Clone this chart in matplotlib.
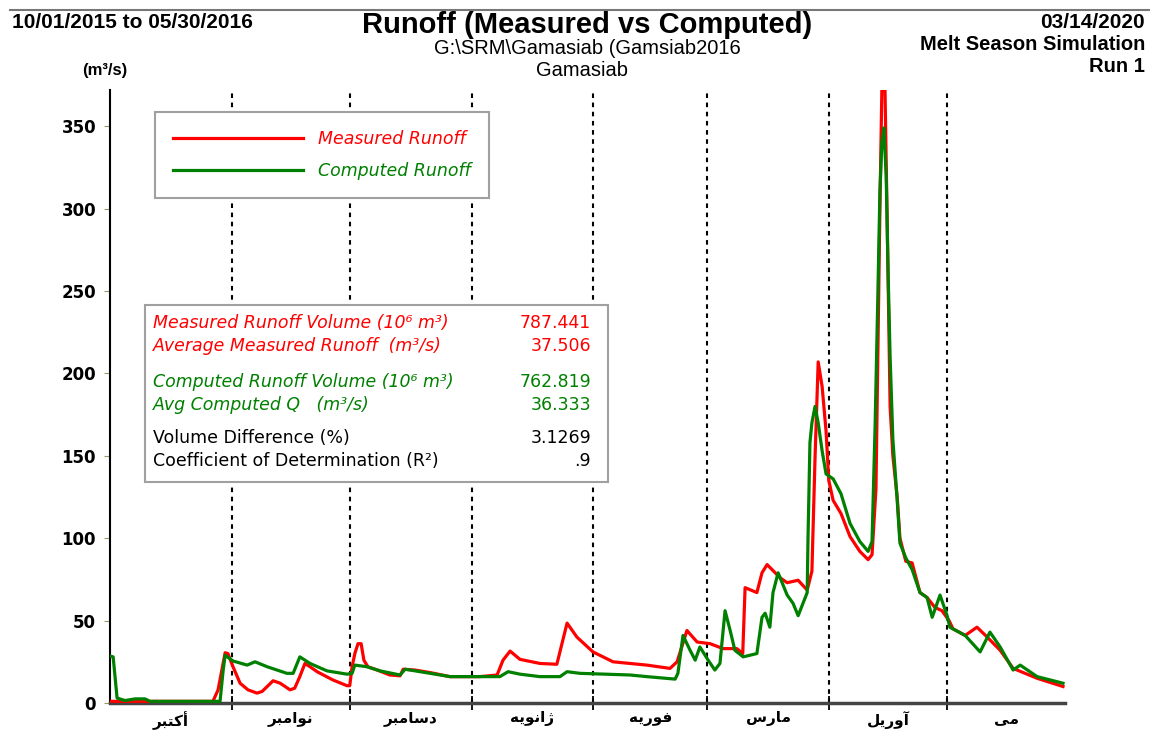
#!/usr/bin/env python3

import numpy as np
import matplotlib.pyplot as plt
from matplotlib.lines import Line2D
from matplotlib.patches import Rectangle

# days since 10/01/2015 and flow (m3/s)
meas_day = [0, 26.2, 27.5, 29.3, 30, 31.3, 33.1, 35.1, 37.4, 38.7, 40, 41.5, 43.3, 45.8, 47,
            48.3, 49.6, 50.9, 52.7, 56.7, 60.3, 61, 61.6, 62.3, 63.1, 63.9, 64.6, 65.6, 68,
            71.2, 73.8, 74.6, 77.6, 81.4, 86.5, 94.1, 98.5, 100, 101.8, 104.3, 109.4, 113.7,
            115, 116.3, 118.8, 122.9, 128, 136.6, 142.5, 144.3, 146.8, 149.4, 152.7, 156,
            159.5, 161, 161.6, 164.6, 165.9, 167.2, 170.5, 172.3, 175.1, 177.4, 178.6, 179.4,
            180.2, 181.2, 182.2, 182.9, 184, 186, 188.3, 190.8, 192.9, 193.9, 194.9, 195.9,
            196.4, 197.2, 197.7, 198.5, 199.2, 200.3, 201, 202.5, 204.1, 206.1, 207.9, 209.9,
            211.7, 213.5, 214.5, 217.6, 220.6, 223.2, 226.5, 229.8, 235.9, 242.5]
meas_q = [1, 1, 8, 30.5, 30, 22, 12, 8, 6, 7, 10, 13.5, 12, 8, 9,
          16, 24, 22, 19, 14, 10.5, 10.5, 22, 30, 36, 36, 26, 22, 20,
          17, 16.5, 20.5, 20, 18.5, 16, 16, 17, 26, 31.5, 26.5, 24, 23.5,
          36, 48.5, 40, 31, 25, 23, 21, 25, 44, 37, 36, 33,
          33, 30, 70, 67, 79, 84, 76, 73, 74.5, 68.5, 80, 149,
          207, 192, 165, 135, 123, 115, 101, 92, 87, 90, 130, 300,
          372, 372, 300, 180, 150, 125, 100, 86, 85, 67, 64, 58,
          56, 50, 45, 41, 46, 40, 32, 21, 15, 10]

comp_day = [0, 0.8, 1.8, 3.8, 6.4, 8.9, 10.2, 28, 28.8, 29.3, 31.3, 34.9, 36.9, 40, 45,
            46.6, 48.3, 50.9, 55.2, 60.3, 61.6, 62.3, 65.4, 68.7, 73.8, 75.1, 78.9, 84, 86.5,
            99.2, 101.3, 104.3, 109.4, 114.5, 116.3, 119.6, 132.3, 136.6, 143.8, 144.5,
            145.8, 147.6, 148.9, 150.1, 152.2, 153.9, 155.2, 156.5, 157.8, 159, 161.1, 164.6,
            165.9, 166.7, 167.9, 168.7, 170, 172.3, 173.8, 175.1, 177.4, 177.6, 178.1, 178.6,
            179.4, 180.2, 181.2, 182.2, 184, 186, 188.3, 190.8, 192.9, 193.9, 194.7, 195.4,
            195.9, 196.4, 196.9, 197.5, 198, 198.5, 199.2, 200.3, 201, 202.5, 204.1, 206.1,
            207.9, 209.2, 211.2, 213, 213.7, 217.6, 221.4, 223.9, 226.5, 229.8, 231.6, 235.9,
            242.5]
comp_q = [28.5, 28, 3, 1.5, 2.5, 2.5, 1, 1, 20, 29, 25.5, 23, 25, 22, 18,
          18, 28, 24, 19.5, 17.5, 18, 23, 22, 19.5, 17, 20.5, 19, 17, 16,
          16, 19, 17.5, 16, 16, 19, 18, 17, 16, 14.5, 18,
          41, 32, 26, 34, 26, 20, 24, 56, 44, 32, 28, 30,
          52, 54.5, 46, 67, 79, 65.5, 60.5, 53, 67, 99, 158, 170,
          180, 170, 153, 139, 136, 127, 109, 98, 92, 98, 170, 250,
          310, 340, 349, 320, 260, 210, 160, 123, 97, 88, 81, 67,
          64, 52, 65.5, 53, 46, 41, 31, 43, 34, 20, 23, 16,
          12]

month_days = [31, 30, 31, 31, 29, 31, 30, 30]
month_names = ["أکتبر", "نوامبر", "دسامبر", "ژانویه", "فوریه", "مارس", "آوریل", "می"]

stat_labels = ["Measured Runoff Volume (10⁶ m³)", "Average Measured Runoff  (m³/s)",
               "Computed Runoff Volume (10⁶ m³)", "Avg Computed Q   (m³/s)",
               "Volume Difference (%)", "Coefficient of Determination (R²)"]
stat_values = ["787.441", "37.506", "762.819", "36.333", "3.1269", ".9"]

# Arabic presentation forms: isolated, final, initial, medial
FORMS = {
    "ا": ("\uFE8D", "\uFE8E", None, None),
    "أ": ("\uFE83", "\uFE84", None, None),
    "آ": ("\uFE81", "\uFE82", None, None),
    "ب": ("\uFE8F", "\uFE90", "\uFE91", "\uFE92"),
    "ت": ("\uFE95", "\uFE96", "\uFE97", "\uFE98"),
    "د": ("\uFEA9", "\uFEAA", None, None),
    "ر": ("\uFEAD", "\uFEAE", None, None),
    "ژ": ("\uFB8A", "\uFB8B", None, None),
    "س": ("\uFEB1", "\uFEB2", "\uFEB3", "\uFEB4"),
    "ف": ("\uFED1", "\uFED2", "\uFED3", "\uFED4"),
    "ک": ("\uFB8E", "\uFB8F", "\uFB90", "\uFB91"),
    "ل": ("\uFEDD", "\uFEDE", "\uFEDF", "\uFEE0"),
    "م": ("\uFEE1", "\uFEE2", "\uFEE3", "\uFEE4"),
    "ن": ("\uFEE5", "\uFEE6", "\uFEE7", "\uFEE8"),
    "ه": ("\uFEE9", "\uFEEA", "\uFEEB", "\uFEEC"),
    "و": ("\uFEED", "\uFEEE", None, None),
    "ی": ("\uFBFC", "\uFBFD", "\uFBFE", "\uFBFF"),
}


def shape(word):
    out = []
    n = len(word)
    for i, ch in enumerate(word):
        f = FORMS[ch]
        prev_j = i > 0 and FORMS[word[i - 1]][2] is not None
        next_j = i < n - 1 and f[2] is not None
        if prev_j and next_j:
            out.append(f[3])
        elif prev_j:
            out.append(f[1])
        elif next_j:
            out.append(f[2])
        else:
            out.append(f[0])
    return "".join(reversed(out))


W, H = 1150, 731


def fx(px):
    return px / W


def fy(py):
    return 1 - py / H


fig = plt.figure(figsize=(11.5, 7.31), dpi=100)
ax = fig.add_axes([fx(110), fy(703), 955 / W, 613 / H])

bounds = np.cumsum([0] + month_days)
centers = (bounds[:-1] + bounds[1:]) / 2

for b in bounds[1:-1]:
    ax.axvline(b, color="black", linestyle=(0, (2.2, 2.2)), linewidth=1.5, zorder=1)

ax.plot(meas_day, meas_q, color="#ff0000", linewidth=2.3, label="Measured Runoff", zorder=3)
ax.plot(comp_day, comp_q, color="#008000", linewidth=2.3, label="Computed Runoff", zorder=4)

ax.set_xlim(0, bounds[-1])
ax.set_ylim(0, 372)

ax.spines["top"].set_visible(False)
ax.spines["right"].set_visible(False)
ax.spines["left"].set_linewidth(1.5)
ax.spines["bottom"].set_linewidth(2.5)
ax.spines["bottom"].set_color("#444444")

ax.set_yticks(np.arange(0, 351, 50))
ax.tick_params(axis="y", length=4, color="#999966", labelsize=12, pad=6)
for t in ax.get_yticklabels():
    t.set_fontweight("bold")

ax.set_xticks(bounds[1:-1])
ax.set_xticklabels([])
ax.tick_params(axis="x", which="major", direction="inout", length=10, width=1.3, color="black")
ax.set_xticks(centers, minor=True)
ax.set_xticklabels([shape(m) for m in month_names], minor=True,
                   fontsize=11, fontweight="bold", family=["DejaVu Sans"])
ax.tick_params(axis="x", which="minor", length=0, pad=6)

leg = ax.legend(loc="upper left", bbox_to_anchor=(fx(155), fy(112)),
                bbox_transform=fig.transFigure, borderaxespad=0, borderpad=1.05,
                handlelength=7.5, handletextpad=0.85, labelspacing=0.8,
                fancybox=False, framealpha=1, edgecolor="#a0a0a0",
                prop={"style": "italic", "size": 12.5}, labelcolor="linecolor")
leg.get_frame().set_linewidth(1.5)
leg.set_zorder(10)

fig.add_artist(Rectangle((fx(145), fy(482)), 463 / W, 177 / H, transform=fig.transFigure,
                         facecolor="white", edgecolor="#a0a0a0", linewidth=1.5, zorder=5))
stat_y = [323, 346, 382, 405, 438, 461]
stat_col = ["#ff0000", "#ff0000", "#008000", "#008000", "black", "black"]
for lab, val, yy, c in zip(stat_labels, stat_values, stat_y, stat_col):
    st = "italic" if c != "black" else "normal"
    fig.text(fx(153), fy(yy), lab, color=c, fontsize=12.5, style=st, va="center", zorder=6)
    fig.text(fx(591), fy(yy), val, color=c, fontsize=12.5, ha="right", va="center", zorder=6)

fig.add_artist(Line2D([fx(10), 1], [fy(10), fy(10)], color="#777777", linewidth=1.5))

fig.text(fx(587), fy(25), "Runoff (Measured vs Computed)", fontsize=21, fontweight="bold",
         ha="center", va="center", family="Liberation Sans")
fig.text(fx(587), fy(48), "G:\\SRM\\Gamasiab (Gamsiab2016", fontsize=14.5,
         ha="center", va="center", family="Liberation Sans")
fig.text(fx(582), fy(71), "Gamasiab", fontsize=14.5, ha="center", va="center",
         family="Liberation Sans")
fig.text(fx(12), fy(22), "10/01/2015 to 05/30/2016", fontsize=15, fontweight="bold",
         ha="left", va="center", family="Liberation Sans")
fig.text(fx(1145), fy(22), "03/14/2020", fontsize=15, fontweight="bold",
         ha="right", va="center", family="Liberation Sans")
fig.text(fx(1145), fy(45), "Melt Season Simulation", fontsize=14.5, fontweight="bold",
         ha="right", va="center", family="Liberation Sans")
fig.text(fx(1145), fy(67), "Run 1", fontsize=14.5, fontweight="bold",
         ha="right", va="center", family="Liberation Sans")
fig.text(fx(82), fy(71), "(m³/s)", fontsize=12, fontweight="bold",
         ha="left", va="center", family="Liberation Sans")

fig.savefig("out.png", dpi=100)
